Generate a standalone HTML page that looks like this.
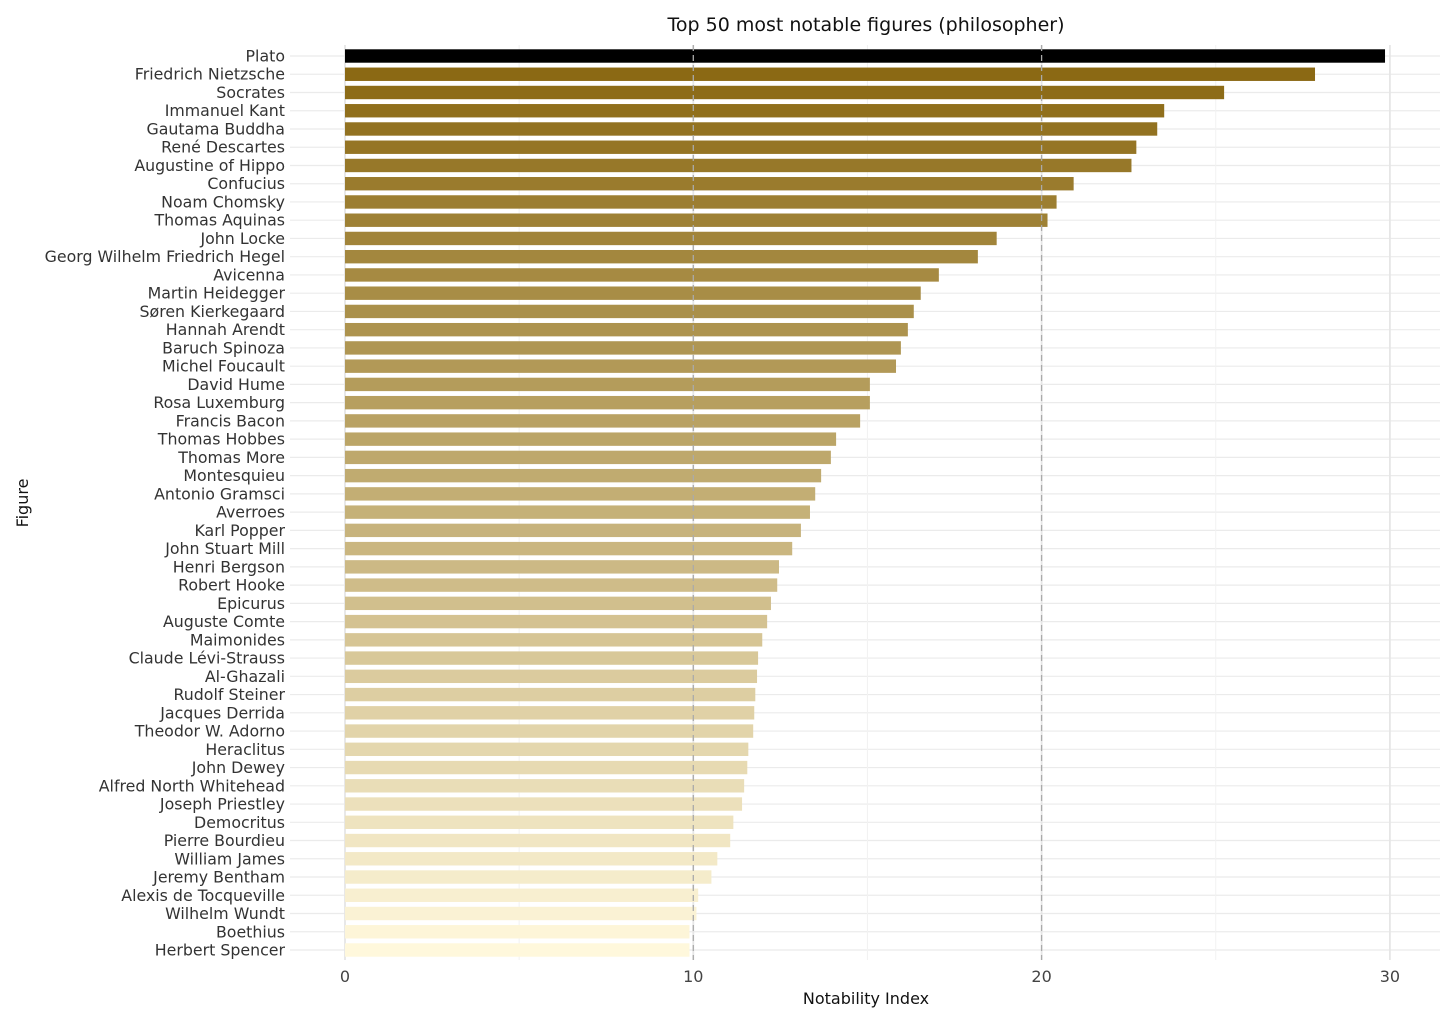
<!DOCTYPE html>
<html><head><meta charset="utf-8"><style>
body{margin:0;background:#fff;font-family:"Liberation Sans","DejaVu Sans",sans-serif;}
svg text{font-family:"DejaVu Sans","Liberation Sans",sans-serif;}
</style></head><body>
<svg id="chart" width="1456" height="1024" xmlns="http://www.w3.org/2000/svg">
<rect width="1456" height="1024" fill="#fff"/>
<g id="grid"></g><g id="bars"></g><g id="refs"></g><g id="labels"></g>
<text x="866" y="31" text-anchor="middle" font-size="19" fill="#111">Top 50 most notable figures (philosopher)</text>
<text x="866" y="1004" text-anchor="middle" font-size="16" fill="#111">Notability Index</text>
<text transform="translate(28,503) rotate(-90)" text-anchor="middle" font-size="16" fill="#111">Figure</text>
</svg>
<script>
const names=["Plato","Friedrich Nietzsche","Socrates","Immanuel Kant","Gautama Buddha","René Descartes","Augustine of Hippo","Confucius","Noam Chomsky","Thomas Aquinas","John Locke","Georg Wilhelm Friedrich Hegel","Avicenna","Martin Heidegger","Søren Kierkegaard","Hannah Arendt","Baruch Spinoza","Michel Foucault","David Hume","Rosa Luxemburg","Francis Bacon","Thomas Hobbes","Thomas More","Montesquieu","Antonio Gramsci","Averroes","Karl Popper","John Stuart Mill","Henri Bergson","Robert Hooke","Epicurus","Auguste Comte","Maimonides","Claude Lévi-Strauss","Al-Ghazali","Rudolf Steiner","Jacques Derrida","Theodor W. Adorno","Heraclitus","John Dewey","Alfred North Whitehead","Joseph Priestley","Democritus","Pierre Bourdieu","William James","Jeremy Bentham","Alexis de Tocqueville","Wilhelm Wundt","Boethius","Herbert Spencer"];
const values=[29.86,27.85,25.24,23.52,23.32,22.72,22.58,20.92,20.43,20.17,18.71,18.17,17.05,16.53,16.33,16.16,15.96,15.82,15.07,15.07,14.79,14.10,13.95,13.67,13.50,13.35,13.09,12.84,12.46,12.41,12.23,12.12,11.98,11.86,11.83,11.78,11.75,11.72,11.58,11.55,11.46,11.40,11.15,11.06,10.69,10.52,10.14,10.09,9.89,9.89];
const xTicks=[0,10,20,30];
const xMinor=[5,15,25];
const refLines=[10,20];
const NS="http://www.w3.org/2000/svg";
const x=v=>345+v*34.83;
const y=i=>56+i*18.245;
function mk(tag,attrs,parent){const e=document.createElementNS(NS,tag);for(const k in attrs)e.setAttribute(k,attrs[k]);parent.appendChild(e);return e;}
const grid=document.getElementById('grid'),bars=document.getElementById('bars'),refs=document.getElementById('refs'),labels=document.getElementById('labels');
names.forEach((n,i)=>{const l=mk('line',{x1:290,x2:1440,y1:y(i),y2:y(i),stroke:'#ebebeb','stroke-width':1.2},grid);

});
xMinor.forEach(v=>{const l=mk('line',{x1:x(v),x2:x(v),y1:45,y2:960,stroke:'#f2f2f2','stroke-width':1},grid);

});
xTicks.forEach(v=>{const l=mk('line',{x1:x(v),x2:x(v),y1:45,y2:960,stroke:'#e6e6e6','stroke-width':1.8},grid);


const t=mk('text',{x:x(v),y:982,'text-anchor':'middle','font-size':16,fill:'#444'},labels);t.textContent=v;

});
const lo=[255,248,220],hi=[139,105,20];
const n=values.length;
values.forEach((v,i)=>{let f;
if(i===0)f='#000';else{const t=1-(i-1)/(n-2);const c=lo.map((a,k)=>Math.round(a+(hi[k]-a)*t));f=`rgb(${c})`;}
const r=mk('rect',{x:x(0),y:y(i)-6.7,width:x(v)-x(0),height:13.4,fill:f},bars);


const t=mk('text',{x:285,y:y(i)+5.5,'text-anchor':'end','font-size':15.8,fill:'#333'},labels);t.textContent=names[i];

});
refLines.forEach(v=>{const l=mk('line',{x1:x(v),x2:x(v),y1:45,y2:960,stroke:'#aaa','stroke-width':1.3,'stroke-dasharray':'6,4'},refs);

});
</script>
</body></html>
